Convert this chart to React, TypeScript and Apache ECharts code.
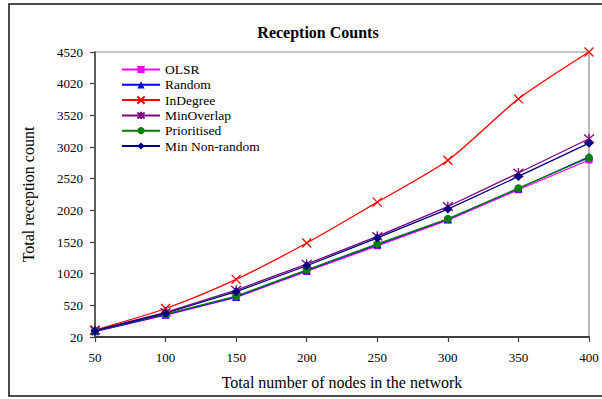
import React, { useEffect, useRef } from "react";
import * as echarts from "echarts";

const nodes = [50, 100, 150, 200, 250, 300, 350, 400];
const olsr = [105, 365, 645, 1055, 1460, 1865, 2345, 2815];
const random = [110, 375, 655, 1070, 1480, 1880, 2365, 2865];
const inDegree = [130, 470, 930, 1505, 2150, 2810, 3780, 4520];
const minOverlap = [125, 410, 760, 1170, 1610, 2080, 2610, 3150];
const prioritised = [115, 380, 665, 1080, 1490, 1885, 2370, 2850];
const minNonRandom = [120, 395, 735, 1145, 1585, 2040, 2555, 3080];

const FONT = "Liberation Serif";
const X_SYMBOL = "path://M0,0L10,10M10,0L0,10";
const STAR_SYMBOL = "path://M0,0L10,10M10,0L0,10M5,-1L5,11";

export default function App() {
  const ref = useRef<HTMLDivElement>(null);
  useEffect(() => {
    if (!ref.current) return;
    const chart = echarts.init(ref.current, null, { renderer: "svg" });
    const pair = (arr: number[]) => nodes.map((n, i) => [n, arr[i]]);
    const mk = (name: string, data: number[], color: string, symbol: string, size: number, extra: any = {}) => ({
      name,
      type: "line",
      data: pair(data),
      symbol,
      symbolSize: size,
      lineStyle: { color, width: 1.3 },
      itemStyle: { color, borderColor: color, borderWidth: symbol.startsWith("path") ? 1.3 : 0 },
      ...extra,
    });
    chart.setOption({
      animation: false,
      backgroundColor: "#ffffff",
      textStyle: { fontFamily: FONT },
      graphic: [
        {
          type: "rect",
          shape: { x: 9, y: 4, width: 620, height: 392 },
          style: { fill: "none", stroke: "#111", lineWidth: 1.5 },
          silent: true,
        },
      ],
      title: {
        text: "Reception Counts",
        left: 313,
        top: 19,
        textAlign: "center",
        textStyle: { fontFamily: FONT, fontSize: 16, fontWeight: "bold", color: "#000" },
      },
      legend: {
        orient: "vertical",
        left: 121,
        top: 62,
        padding: 0,
        itemWidth: 38,
        itemHeight: 9,
        itemGap: 0.3,
        textStyle: { fontFamily: FONT, fontSize: 13.5, color: "#000", lineHeight: 15 },
        data: ["OLSR", "Random", "InDegree", "MinOverlap", "Prioritised", "Min Non-random"],
      },
      grid: {
        left: 95,
        right: 13,
        top: 52,
        bottom: 62,
        show: true,
        borderColor: "#8c8c8c",
        borderWidth: 1.2,
        backgroundColor: "transparent",
      },
      xAxis: {
        type: "value",
        min: 50,
        max: 400,
        interval: 50,
        name: "Total number of nodes in the network",
        nameLocation: "middle",
        nameGap: 37,
        nameTextStyle: { fontFamily: FONT, fontSize: 16, color: "#000" },
        axisLine: { show: true, lineStyle: { color: "#404040", width: 2 } },
        axisTick: { show: true, length: 5, lineStyle: { color: "#404040", width: 1.2 } },
        axisLabel: { fontFamily: FONT, fontSize: 13, color: "#000", margin: 14, formatter: (v: number) => String(v) },
        splitLine: { show: false },
      },
      yAxis: {
        type: "value",
        min: 20,
        max: 4520,
        interval: 500,
        name: "Total reception count",
        nameLocation: "middle",
        nameGap: 59,
        nameTextStyle: { fontFamily: FONT, fontSize: 16, color: "#000" },
        axisLine: { show: true, lineStyle: { color: "#404040", width: 1.5 } },
        axisTick: { show: true, length: 5, lineStyle: { color: "#404040", width: 1.2 } },
        axisLabel: { fontFamily: FONT, fontSize: 13, color: "#000", margin: 12, formatter: (v: number) => String(v) },
        splitLine: { show: false },
      },
      series: [
        mk("OLSR", olsr, "#ff00ff", "rect", 7),
        mk("Random", random, "#0000ff", "triangle", 8),
        mk("InDegree", inDegree, "#ff0000", X_SYMBOL, 9, { smooth: 0.25 }),
        mk("MinOverlap", minOverlap, "#800080", STAR_SYMBOL, 10),
        mk("Prioritised", prioritised, "#008000", "circle", 8),
        mk("Min Non-random", minNonRandom, "#000080", "diamond", 9),
      ],
    });
    return () => chart.dispose();
  }, []);
  return (
    <div
      ref={ref}
      style={{ position: "fixed", left: 0, top: 0, width: 602, height: 399, background: "#fff" }}
    />
  );
}
